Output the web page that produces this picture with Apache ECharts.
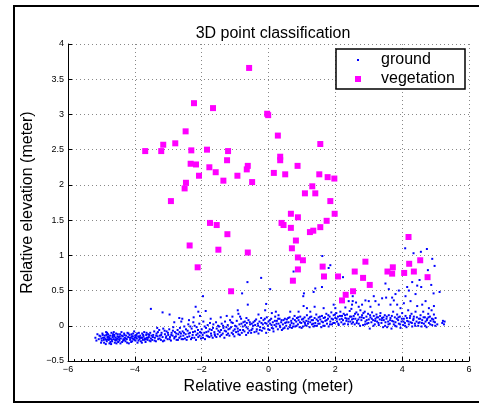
<!DOCTYPE html>
<html>
<head>
<meta charset="utf-8">
<script src="https://cdn.jsdelivr.net/npm/echarts@6.0.0/dist/echarts.min.js"></script>
</head>
<body style="margin:0; padding:0; background:#fff;">
<div id="chart" style="width:479px; height:405px;"></div>
<script type="text/javascript">
// ground returns [easting, elevation], grouped by easting
const ground = [
  [-5.18,-0.17],[-5.12,-0.12],[-5.08,-0.19],[-5.03,-0.15],[-4.99,-0.21],[-4.97,-0.11],[-4.95,-0.17],[-4.92,-0.24],[-4.9,-0.14],[-4.88,-0.19],
  [-4.86,-0.09],[-4.84,-0.22],[-4.82,-0.16],[-4.8,-0.12],[-4.78,-0.2],[-4.76,-0.25],[-4.74,-0.14],[-4.72,-0.18],[-4.7,-0.1],[-4.68,-0.22],
  [-4.66,-0.16],[-4.64,-0.19],[-4.62,-0.13],[-4.6,-0.24],[-4.58,-0.17],[-4.56,-0.11],[-4.54,-0.2],[-4.52,-0.15],[-4.5,-0.23],[-4.93,-0.2],
  [-4.85,-0.13],[-4.77,-0.17],[-4.69,-0.2],[-4.61,-0.15],[-4.53,-0.18],[-5.0,-0.18],[-4.73,-0.23],[-4.65,-0.12],[-4.57,-0.21],[-4.81,-0.19],
  [-4.48,-0.16],[-4.46,-0.21],[-4.44,-0.12],[-4.42,-0.18],[-4.4,-0.09],[-4.38,-0.23],[-4.36,-0.15],[-4.34,-0.19],[-4.32,-0.11],[-4.3,-0.17],
  [-4.28,-0.22],[-4.26,-0.14],[-4.24,-0.19],[-4.22,-0.1],[-4.2,-0.16],[-4.18,-0.25],[-4.16,-0.13],[-4.14,-0.2],[-4.12,-0.17],[-4.1,-0.12],
  [-4.08,-0.22],[-4.06,-0.15],[-4.04,-0.19],[-4.02,-0.08],[-4.0,-0.17],[-3.98,-0.21],[-3.96,-0.13],[-3.94,-0.18],[-3.92,-0.24],[-3.9,-0.15],
  [-3.88,-0.1],[-3.86,-0.19],[-3.84,-0.14],[-3.82,-0.22],[-3.8,-0.17],[-3.78,-0.11],[-3.76,-0.2],[-3.74,-0.15],[-3.72,-0.09],[-3.7,-0.18],
  [-3.68,-0.23],[-3.66,-0.13],[-3.64,-0.17],[-3.62,-0.2],[-3.6,-0.12],[-3.58,-0.16],[-3.56,-0.21],[-3.54,-0.1],[-3.52,-0.18],[-3.5,-0.14],
  [-4.31,-0.2],[-4.07,-0.18],[-3.87,-0.16],[-3.67,-0.19],[-3.99,-0.14],
  [-3.48,-0.2],[-3.45,-0.13],[-3.42,-0.08],[-3.4,-0.17],[-3.37,-0.22],[-3.35,-0.11],[-3.32,-0.15],[-3.3,-0.19],[-3.27,-0.06],[-3.25,-0.14],
  [-3.22,-0.2],[-3.2,-0.1],[-3.17,-0.16],[-3.15,-0.04],[-3.12,-0.21],[-3.1,-0.12],[-3.07,-0.17],[-3.05,-0.08],[-3.02,-0.19],[-3.0,-0.13],
  [-2.97,-0.05],[-2.95,-0.16],[-2.92,-0.21],[-2.9,-0.1],[-2.87,-0.14],[-2.85,-0.02],[-2.82,-0.18],[-2.8,-0.09],[-2.77,-0.15],[-2.75,-0.2],
  [-2.72,-0.06],[-2.7,-0.12],[-2.67,-0.17],[-2.65,-0.03],[-2.62,-0.11],[-2.6,-0.19],[-2.57,-0.08],[-2.55,-0.14],[-2.52,-0.01],[-2.5,-0.18],
  [-3.52,0.24],[-3.17,0.19],[-2.96,0.16],[-2.67,0.11],[-2.58,0.1],[-2.82,0.05],[-3.33,-0.03],[-2.61,0.06],
  [-2.48,-0.12],[-2.45,-0.2],[-2.42,-0.07],[-2.4,0.02],[-2.37,-0.15],[-2.35,-0.1],[-2.32,-0.19],[-2.3,-0.04],[-2.27,-0.13],[-2.25,0.05],
  [-2.22,-0.17],[-2.2,-0.08],[-2.17,-0.2],[-2.15,-0.02],[-2.12,-0.11],[-2.1,-0.16],[-2.07,0.03],[-2.05,-0.09],[-2.02,-0.18],[-2.0,-0.05],
  [-1.97,-0.13],[-1.95,0.06],[-1.92,-0.1],[-1.9,-0.19],[-1.87,-0.03],[-1.85,-0.14],[-1.82,0.01],[-1.8,-0.08],[-1.77,-0.16],[-1.75,0.04],
  [-1.72,-0.11],[-1.7,-0.06],[-1.67,-0.17],[-1.65,0.02],[-1.62,-0.09],[-1.6,-0.14],[-1.57,0.05],[-1.55,-0.04],[-1.52,-0.12],[-1.5,-0.07],
  [-2.18,0.27],[-2.1,0.2],[-1.96,0.42],[-1.88,0.21],[-2.38,0.08],[-2.24,0.12],[-2.05,0.14],[-1.73,0.1],
  [-1.48,-0.01],[-1.45,-0.15],[-1.42,-0.06],[-1.4,0.03],[-1.37,-0.11],[-1.35,-0.03],[-1.32,-0.17],[-1.3,0.06],[-1.27,-0.08],[-1.25,-0.13],
  [-1.22,0.01],[-1.2,-0.05],[-1.17,-0.14],[-1.15,0.08],[-1.12,-0.02],[-1.1,-0.1],[-1.07,0.04],[-1.05,-0.07],[-1.02,-0.15],[-1.0,0.0],
  [-0.97,-0.09],[-0.95,0.07],[-0.92,-0.04],[-0.9,-0.12],[-0.87,0.02],[-0.85,-0.06],[-0.82,0.1],[-0.8,-0.1],[-0.77,-0.01],[-0.75,0.05],
  [-0.72,-0.08],[-0.7,0.01],[-0.67,-0.13],[-0.65,0.04],[-0.62,-0.04],[-0.6,0.08],[-0.57,-0.07],[-0.55,0.02],[-0.52,-0.1],[-0.5,0.03],
  [-1.43,0.12],[-1.25,0.14],[-0.92,0.22],[-0.9,0.17],[-0.79,0.46],[-0.63,0.62],[-0.62,0.3],[-0.66,0.11],[-1.08,0.13],[-0.85,0.13],
  [-0.48,-0.04],[-0.45,0.05],[-0.42,-0.09],[-0.4,0.01],[-0.37,0.09],[-0.35,-0.05],[-0.32,0.03],[-0.3,-0.11],[-0.27,0.06],[-0.25,-0.02],
  [-0.22,0.11],[-0.2,-0.07],[-0.17,0.02],[-0.15,0.08],[-0.12,-0.04],[-0.1,0.04],[-0.07,-0.1],[-0.05,0.12],[-0.02,0.0],[0.0,0.06],
  [0.03,-0.06],[0.05,0.03],[0.08,0.1],[0.1,-0.03],[0.13,0.05],[0.15,-0.08],[0.18,0.01],[0.2,0.13],[0.23,-0.01],[0.25,0.07],
  [0.28,-0.05],[0.3,0.03],[0.33,0.1],[0.35,-0.02],[0.38,0.05],[0.4,-0.06],[0.43,0.02],[0.45,0.08],[0.48,-0.03],[0.5,0.04],
  [-0.22,0.68],[-0.07,0.31],[0.05,0.52],[-0.1,0.22],[0.1,0.18],[0.3,0.15],[-0.3,0.16],[0.22,0.2],
  [0.53,0.0],[0.55,0.09],[0.58,-0.04],[0.6,0.05],[0.63,0.12],[0.65,0.01],[0.68,0.07],[0.7,-0.03],[0.73,0.1],[0.75,0.03],
  [0.78,0.14],[0.8,-0.01],[0.83,0.06],[0.85,0.11],[0.88,0.02],[0.9,0.08],[0.93,-0.02],[0.95,0.13],[0.98,0.04],[1.0,0.09],
  [1.03,-0.01],[1.05,0.06],[1.08,0.12],[1.1,0.01],[1.13,0.07],[1.15,0.15],[1.18,0.03],[1.2,0.1],[1.23,-0.02],[1.25,0.05],
  [1.28,0.13],[1.3,0.02],[1.33,0.08],[1.35,-0.01],[1.38,0.11],[1.4,0.04],[1.43,0.16],[1.45,0.0],[1.48,0.07],[1.5,0.12],
  [1.06,0.46],[1.04,0.42],[1.05,0.28],[1.15,0.25],[0.75,0.77],[1.4,0.53],[1.35,0.48],[1.38,0.27],[0.9,0.2],[0.65,0.2],[1.25,0.2],
  [1.53,0.03],[1.55,0.09],[1.58,-0.02],[1.6,0.14],[1.63,0.05],[1.65,0.11],[1.68,0.0],[1.7,0.07],[1.73,0.17],[1.75,0.03],
  [1.78,0.1],[1.8,-0.01],[1.83,0.13],[1.85,0.06],[1.88,0.19],[1.9,0.02],[1.93,0.09],[1.95,0.15],[1.98,0.04],[2.0,0.11],
  [2.03,0.18],[2.05,0.06],[2.08,0.13],[2.1,0.01],[2.13,0.09],[2.15,0.2],[2.18,0.05],[2.2,0.14],[2.23,0.08],[2.25,0.17],
  [2.28,0.03],[2.3,0.11],[2.33,0.07],[2.35,0.16],[2.38,0.02],[2.4,0.1],[2.43,0.21],[2.45,0.06],[2.48,0.13],[2.5,0.09],
  [1.61,0.99],[1.85,0.86],[1.8,0.82],[2.23,0.69],[1.6,0.55],[1.95,0.3],[2.0,0.25],[2.3,0.26],[2.4,0.35],[1.65,0.25],[2.48,0.24],
  [2.53,0.05],[2.55,0.14],[2.58,0.02],[2.6,0.1],[2.63,0.19],[2.65,0.07],[2.68,0.16],[2.7,0.03],[2.73,0.12],[2.75,0.22],
  [2.78,0.08],[2.8,0.15],[2.83,0.01],[2.85,0.11],[2.88,0.2],[2.9,0.06],[2.93,0.13],[2.95,0.03],[2.98,0.17],[3.0,0.09],
  [3.03,-0.04],[3.05,0.12],[3.08,0.05],[3.1,0.19],[3.13,0.08],[3.15,0.14],[3.18,0.02],[3.2,0.1],[3.23,0.16],[3.25,0.06],
  [3.28,0.12],[3.3,0.01],[3.33,0.09],[3.35,0.18],[3.38,0.04],[3.4,0.11],[3.43,-0.02],[3.45,0.08],[3.48,0.15],[3.5,0.05],
  [2.52,0.42],[2.52,0.35],[2.5,0.3],[2.62,0.33],[2.8,0.3],[2.9,0.36],[3.0,0.35],[3.05,0.27],[3.2,0.35],[3.15,0.42],[3.3,0.3],[3.4,0.39],[2.7,0.27],
  [3.53,0.1],[3.55,-0.02],[3.58,0.06],[3.6,0.15],[3.63,0.03],[3.65,0.11],[3.68,-0.04],[3.7,0.07],[3.73,0.2],[3.75,0.02],
  [3.78,0.12],[3.8,0.05],[3.83,-0.01],[3.85,0.16],[3.88,0.08],[3.9,0.03],[3.93,0.13],[3.95,-0.03],[3.98,0.06],[4.0,0.18],
  [4.03,0.01],[4.05,0.1],[4.08,0.04],[4.1,0.14],[4.13,-0.02],[4.15,0.07],[4.18,0.22],[4.2,0.02],[4.23,0.11],[4.25,0.05],
  [4.28,0.17],[4.3,-0.01],[4.33,0.08],[4.35,0.13],[4.38,0.03],[4.4,0.2],[4.43,0.06],[4.45,0.28],[4.48,0.0],[4.5,0.1],
  [3.5,0.6],[3.52,0.4],[3.7,0.4],[3.85,0.3],[3.8,0.45],[3.9,0.5],[4.15,0.55],[4.2,0.5],[4.09,1.1],[4.34,1.03],
  [3.65,0.3],[3.75,0.36],[3.95,0.25],[4.05,0.32],[4.25,0.35],[4.3,0.62],[4.4,0.45],[3.6,0.52],[4.1,0.42],
  [4.52,0.05],[4.55,0.15],[4.58,-0.01],[4.6,0.08],[4.63,0.2],[4.65,0.03],[4.68,0.12],[4.7,0.06],[4.73,-0.02],[4.75,0.1],
  [4.78,0.17],[4.8,0.04],[4.83,0.13],[4.85,0.07],[4.88,0.22],[4.9,0.01],[4.93,0.09],[4.95,0.16],[4.98,0.05],[5.0,0.11],
  [5.05,0.02],[5.2,0.04],[5.22,0.07],[5.25,0.02],[5.27,0.06],
  [4.56,1.05],[4.74,1.09],[4.9,0.95],[4.97,0.85],[4.77,0.79],[4.52,0.65],[4.57,0.55],[4.87,0.58],[4.94,0.46],[5.12,0.48],
  [4.45,0.57],[4.6,0.3],[4.7,0.35],[4.8,0.25],[4.95,0.28],
  // second pass over the band, where the returns are densest
  [-5.15,-0.21],[-5.06,-0.14],[-5.01,-0.24],[-4.96,-0.13],[-4.91,-0.17],[-4.87,-0.26],[-4.83,-0.1],[-4.79,-0.15],[-4.75,-0.19],[-4.71,-0.26],
  [-4.67,-0.14],[-4.63,-0.09],[-4.59,-0.2],[-4.55,-0.25],[-4.51,-0.12],[-4.47,-0.19],[-4.43,-0.25],[-4.39,-0.14],[-4.35,-0.21],[-4.31,-0.13],
  [-4.27,-0.18],[-4.23,-0.24],[-4.19,-0.11],[-4.15,-0.17],[-4.11,-0.23],[-4.05,-0.11],[-4.01,-0.2],[-3.97,-0.16],[-3.93,-0.11],[-3.89,-0.21],
  [-3.83,-0.17],[-3.79,-0.24],[-3.75,-0.13],[-3.71,-0.2],[-3.65,-0.1],[-3.61,-0.17],[-3.57,-0.13],[-3.53,-0.22],[-4.85,-0.2],[-4.45,-0.15],
  [-4.09,-0.15],[-3.77,-0.17],
  [-3.46,-0.16],[-3.41,-0.21],[-3.36,-0.14],[-3.31,-0.09],[-3.26,-0.18],[-3.21,-0.13],[-3.16,-0.22],[-3.11,-0.07],[-3.06,-0.15],[-3.01,-0.1],
  [-2.96,-0.19],[-2.91,-0.13],[-2.86,-0.07],[-2.81,-0.16],[-2.76,-0.11],[-2.71,-0.2],[-2.66,-0.09],[-2.63,-0.15],[-2.56,-0.19],[-2.53,-0.1],
  [-2.47,-0.05],[-2.43,-0.16],[-2.39,-0.11],[-2.34,-0.01],[-2.29,-0.17],[-2.26,-0.09],[-2.21,0.0],[-2.16,-0.13],[-2.11,-0.06],[-2.06,-0.14],
  [-2.01,-0.1],[-1.96,-0.17],[-1.91,-0.01],[-1.86,-0.09],[-1.81,-0.15],[-1.76,-0.05],[-1.71,-0.14],[-1.66,-0.03],[-1.61,-0.12],[-1.56,-0.16],[-1.51,0.0],
  [-1.46,-0.09],[-1.41,-0.13],[-1.36,0.0],[-1.31,-0.07],[-1.26,-0.02],[-1.21,-0.11],[-1.16,-0.04],[-1.11,0.05],[-1.06,-0.12],[-1.01,-0.05],
  [-0.96,-0.01],[-0.91,-0.08],[-0.86,-0.13],[-0.81,0.03],[-0.76,-0.06],[-0.71,0.06],[-0.66,-0.02],[-0.61,-0.1],[-0.56,0.05],[-0.51,-0.06],
  [-0.46,0.0],[-0.41,0.07],[-0.36,-0.08],[-0.31,0.0],[-0.26,-0.06],[-0.21,0.04],[-0.16,-0.03],[-0.11,0.1],[-0.06,0.03],[-0.01,-0.05],
  [0.04,0.08],[0.09,0.01],[0.14,-0.04],[0.19,0.07],[0.24,0.03],[0.29,0.1],[0.34,0.0],[0.39,0.08],[0.44,-0.04],[0.49,0.1],
  [0.54,0.05],[0.59,0.11],[0.64,-0.02],[0.69,0.04],[0.74,-0.01],[0.79,0.08],[0.84,0.0],[0.89,0.12],[0.94,0.05],[0.99,-0.03],
  [1.04,0.1],[1.09,0.04],[1.14,0.0],[1.19,0.06],[1.24,0.12],[1.29,0.08],[1.34,0.03],[1.39,0.0],[1.44,0.09],[1.49,0.03],
  [1.54,0.13],[1.59,0.06],[1.64,0.0],[1.69,0.12],[1.74,0.08],[1.79,0.15],[1.84,0.02],[1.89,0.1],[1.94,0.04],[1.99,0.16],
  [2.04,0.1],[2.09,0.03],[2.14,0.14],[2.19,0.1],[2.24,0.02],[2.29,0.15],[2.34,0.1],[2.39,0.06],[2.44,0.13],[2.49,0.03],
  [2.54,0.1],[2.59,0.17],[2.64,0.04],[2.69,0.09],[2.74,0.0],[2.79,0.12],[2.84,0.18],[2.89,0.02],[2.94,0.08],[2.99,0.04],
  [3.04,0.15],[3.09,0.1],[3.14,0.0],[3.19,0.07],[3.24,0.12],[3.29,0.04],[3.34,0.14],[3.39,0.08],[3.44,0.12],[3.49,0.0],
  [3.54,0.13],[3.59,0.02],[3.64,0.08],[3.69,0.14],[3.74,0.06],[3.79,0.0],[3.84,0.1],[3.89,0.12],[3.94,0.02],[3.99,0.1],
  [4.04,0.06],[4.09,0.0],[4.14,0.11],[4.19,0.06],[4.24,0.14],[4.29,0.04],[4.34,0.1],[4.39,0.0],[4.44,0.12],[4.49,0.04],
  [4.54,0.1],[4.59,0.04],[4.64,0.12],[4.69,0.0],[4.74,0.08],[4.79,0.12],[4.84,0.02],[4.89,0.1],[4.94,0.06],[4.99,0.0]
];

// vegetation returns [easting, elevation]
const vegetation = [
  [-0.58,3.66],[-2.23,3.16],[-1.66,3.09],[-0.04,3.01],[-0.01,2.99],[0.28,2.70],[-2.48,2.76],[-3.69,2.48],[-3.21,2.48],[-3.15,2.57],
  [-2.79,2.59],[-2.31,2.49],[-1.84,2.50],[-1.21,2.48],[1.55,2.58],[-2.33,2.30],[-2.17,2.29],[-1.77,2.25],[-1.24,2.35],[-1.58,2.18],
  [-2.08,2.13],[-0.93,2.13],[-0.65,2.22],[-0.62,2.27],[-0.49,2.04],[-1.35,2.06],[-2.47,2.03],[-2.51,1.95],[-2.92,1.77],[0.35,2.40],
  [0.35,2.35],[0.16,2.17],[0.50,2.15],[0.87,2.27],[1.52,2.15],[1.77,2.11],[1.97,2.09],[1.31,1.98],[1.09,1.88],[1.40,1.88],
  [1.85,1.77],[1.98,1.59],[0.67,1.59],[0.88,1.54],[0.39,1.46],[0.45,1.43],[0.67,1.39],[1.74,1.49],[1.55,1.40],[1.34,1.35],
  [1.24,1.33],[-1.75,1.46],[-1.55,1.43],[-1.23,1.30],[0.82,1.21],[-2.36,1.14],[-1.50,1.08],[0.70,1.10],[-0.62,1.04],[0.88,0.97],
  [1.03,0.93],[-2.12,0.83],[1.62,0.84],[0.88,0.80],[1.66,0.70],[2.08,0.70],[0.73,0.64],[-1.12,0.49],[4.19,1.26],[2.90,0.91],
  [4.54,0.93],[4.21,0.88],[2.58,0.77],[3.56,0.77],[3.72,0.83],[3.70,0.74],[4.06,0.75],[4.35,0.77],[2.83,0.68],[4.76,0.69],
  [3.03,0.58],[2.53,0.49],[2.31,0.44],[2.20,0.36]
];

const xTicks = { min: -6, max: 6, step: 2 };
const yTicks = { min: -0.5, max: 4, step: 0.5 };

const FONT = 'Liberation Sans, Arial, Helvetica, sans-serif';
const minus = v => String(v).replace('-', '\u2212');

const chart = echarts.init(document.getElementById('chart'));
chart.setOption({
  animation: false,
  backgroundColor: '#fff',
  title: {
    text: '3D point classification',
    left: 268, top: 21, textAlign: 'center',
    textStyle: { fontFamily: FONT, fontSize: 16, fontWeight: 'normal', color: '#000' }
  },
  grid: { left: 68, right: 10, top: 44, bottom: 44 },
  xAxis: {
    type: 'value', min: xTicks.min, max: xTicks.max, interval: xTicks.step,
    name: 'Relative easting (meter)', nameLocation: 'middle', nameGap: 14,
    nameTextStyle: { fontFamily: FONT, fontSize: 16, color: '#000' },
    axisLine: { show: true, onZero: false, lineStyle: { color: '#000', width: 1 } },
    axisTick: { inside: true, length: 4, lineStyle: { color: '#000' } },
    minorTick: { show: true, splitNumber: 10, length: 2, lineStyle: { color: '#000' } },
    axisLabel: { fontFamily: FONT, fontSize: 9, color: '#000', margin: 4, formatter: minus },
    splitLine: { show: true, lineStyle: { color: '#888', type: [1, 3], width: 1 } }
  },
  yAxis: {
    type: 'value', min: yTicks.min, max: yTicks.max, interval: yTicks.step,
    name: 'Relative elevation (meter)', nameLocation: 'middle', nameGap: 25,
    nameTextStyle: { fontFamily: FONT, fontSize: 16, color: '#000' },
    axisLine: { show: true, onZero: false, lineStyle: { color: '#000', width: 1 } },
    axisTick: { inside: true, length: 4, lineStyle: { color: '#000' } },
    axisLabel: { fontFamily: FONT, fontSize: 9, color: '#000', margin: 4, formatter: minus },
    splitLine: { show: true, lineStyle: { color: '#888', type: [1, 3], width: 1 } }
  },
  series: [
    {
      name: 'ground', type: 'scatter', data: ground,
      symbol: 'rect', symbolSize: 2,
      itemStyle: { color: '#0000ff', opacity: 1 }
    },
    {
      name: 'vegetation', type: 'scatter', data: vegetation,
      symbol: 'rect', symbolSize: 6,
      itemStyle: { color: '#ff00ff', opacity: 1 }
    }
  ],
  graphic: [
    { type: 'rect', shape: { x: 14, y: 6, width: 470, height: 396 },
      style: { fill: 'none', stroke: '#000', lineWidth: 2 }, silent: true },
    { type: 'rect', shape: { x: 336, y: 49, width: 129, height: 40 },
      style: { fill: '#fff', stroke: '#000', lineWidth: 1.5 }, z: 10 },
    { type: 'rect', shape: { x: 357, y: 59, width: 2, height: 2 },
      style: { fill: '#0000ff' }, z: 11 },
    { type: 'rect', shape: { x: 355, y: 76, width: 6, height: 6 },
      style: { fill: '#ff00ff' }, z: 11 },
    { type: 'text', x: 381, y: 60, z: 11,
      style: { text: 'ground', font: '16px ' + FONT, fill: '#000', verticalAlign: 'middle' } },
    { type: 'text', x: 381, y: 79, z: 11,
      style: { text: 'vegetation', font: '16px ' + FONT, fill: '#000', verticalAlign: 'middle' } }
  ]
});
window.onresize = function () { chart.resize(); };
</script>
</body>
</html>
